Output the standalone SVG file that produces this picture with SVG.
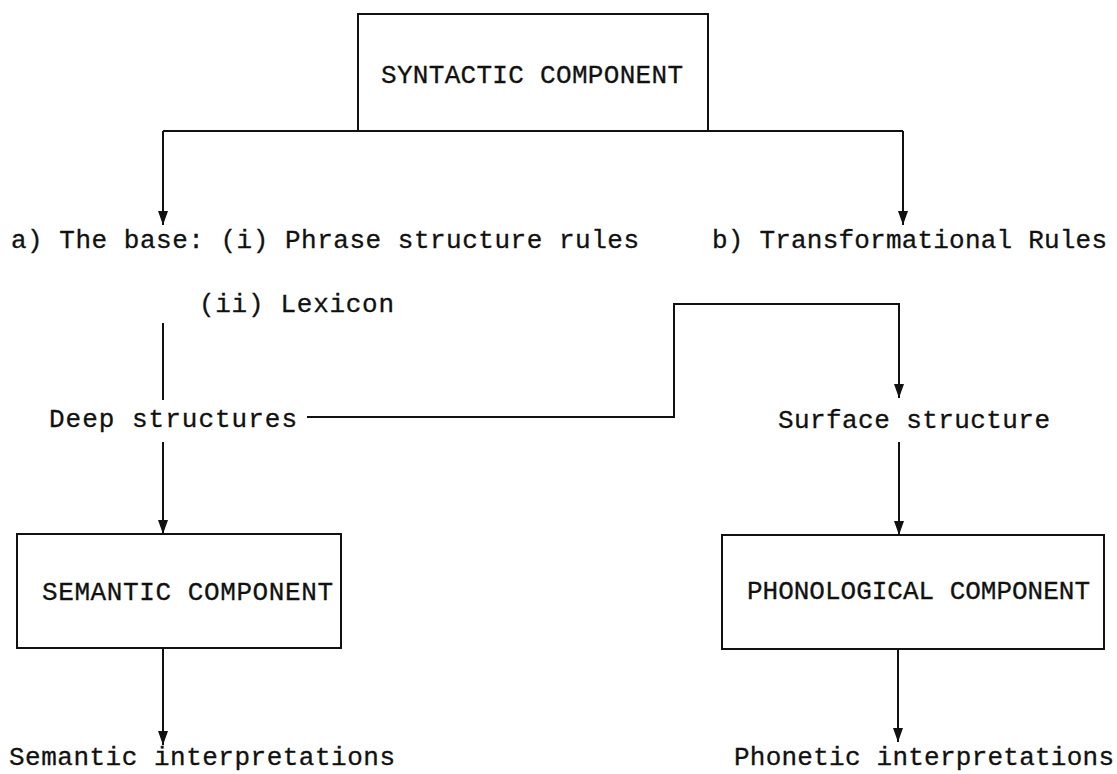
<svg xmlns="http://www.w3.org/2000/svg" width="1117" height="774" viewBox="0 0 1117 774">
  <style>
    .box { fill: #ffffff; stroke: #111; stroke-width: 2; }
    .wire { fill: none; stroke: #111; stroke-width: 2; }
    .lbl { font-family: "Liberation Mono", "Courier New", monospace; font-size: 26px; fill: #111; stroke: #111; stroke-width: 0.3; }
  </style>
  <defs>
    <!-- solid triangular arrowhead, tip at the end of the line -->
    <marker id="tip" markerUnits="userSpaceOnUse" markerWidth="14" markerHeight="10" refX="14" refY="5" orient="auto" viewBox="0 0 14 10">
      <path d="M0,0 L14,5 L0,10 Z" fill="#111"/>
    </marker>
  </defs>

  <rect width="1117" height="774" fill="#ffffff"/>

  <!-- connectors -->
  <g id="connectors">
    <path class="wire" d="M163,131 H903"/>
    <path class="wire" d="M163,131 V225" marker-end="url(#tip)"/>
    <path class="wire" d="M903,131 V225" marker-end="url(#tip)"/>
    <path class="wire" d="M163,323 V400"/>
    <path class="wire" d="M163,442 V534" marker-end="url(#tip)"/>
    <path class="wire" d="M307,417 H674 V304 H899 V398" marker-end="url(#tip)"/>
    <path class="wire" d="M899,442 V535" marker-end="url(#tip)"/>
    <path class="wire" d="M163,648 V745" marker-end="url(#tip)"/>
    <path class="wire" d="M898,649 V742" marker-end="url(#tip)"/>
  </g>

  <!-- component boxes -->
  <g id="syntactic">
    <rect class="box" x="358" y="14" width="350" height="117"/>
    <text class="lbl" x="381" y="83" textLength="302" lengthAdjust="spacing">SYNTACTIC COMPONENT</text>
  </g>

  <g id="semantic">
    <rect class="box" x="17" y="534" width="324" height="114"/>
    <text class="lbl" x="42" y="600" textLength="291" lengthAdjust="spacing">SEMANTIC COMPONENT</text>
  </g>

  <g id="phonological">
    <rect class="box" x="722" y="535" width="382" height="114"/>
    <text class="lbl" x="747" y="599" textLength="343" lengthAdjust="spacing">PHONOLOGICAL COMPONENT</text>
  </g>

  <!-- rule sets and structures -->
  <g id="base">
    <text class="lbl" x="11" y="248" textLength="628" lengthAdjust="spacing">a) The base: (i) Phrase structure rules</text>
    <text class="lbl" x="199" y="312" textLength="195" lengthAdjust="spacing">(ii) Lexicon</text>
  </g>

  <g id="transformational">
    <text class="lbl" x="712" y="248" textLength="395" lengthAdjust="spacing">b) Transformational Rules</text>
  </g>

  <g id="deep">
    <text class="lbl" x="49" y="427" textLength="248" lengthAdjust="spacing">Deep structures</text>
  </g>

  <g id="surface">
    <text class="lbl" x="778" y="428" textLength="272" lengthAdjust="spacing">Surface structure</text>
  </g>

  <g id="semantic-out">
    <text class="lbl" x="9" y="765" textLength="386" lengthAdjust="spacing">Semantic interpretations</text>
  </g>

  <g id="phonetic-out">
    <text class="lbl" x="734" y="765" textLength="380" lengthAdjust="spacing">Phonetic interpretations</text>
  </g>
</svg>
